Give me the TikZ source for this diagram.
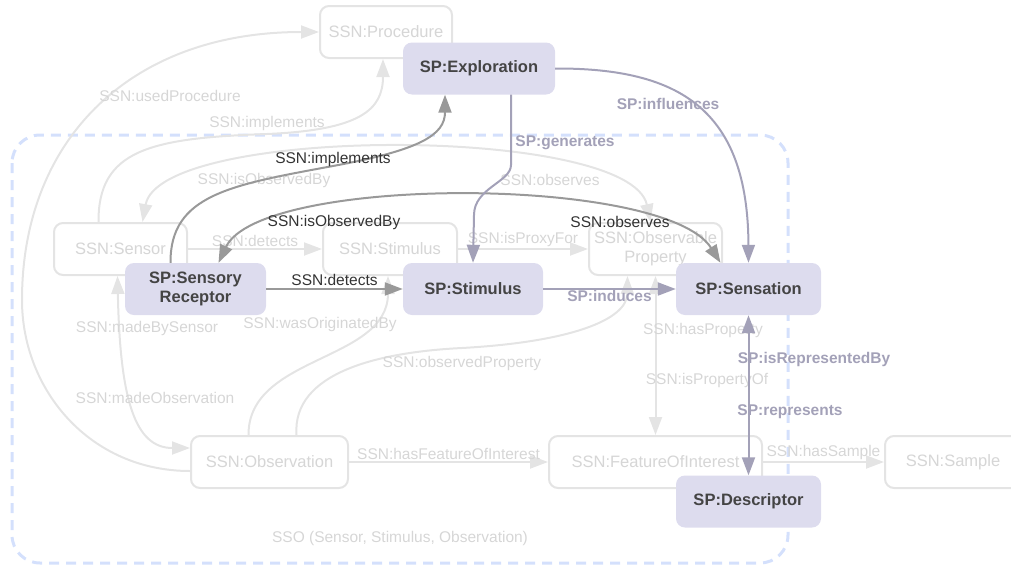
\documentclass[tikz,border=0pt]{standalone}
\usepackage{fontspec}
\setmainfont{Liberation Sans}
\usetikzlibrary{arrows.meta}
\definecolor{spfill}{RGB}{221,220,238}
\definecolor{sptext}{RGB}{68,68,68}
\definecolor{ssnline}{RGB}{228,228,228}
\definecolor{ssntext}{RGB}{214,214,214}
\definecolor{darkline}{RGB}{153,153,153}
\definecolor{darktext}{RGB}{51,51,51}
\definecolor{spline}{RGB}{163,161,184}
\definecolor{clusterline}{RGB}{212,224,252}
\begin{document}
\begin{tikzpicture}[x=1pt, y=-1pt, >={Triangle[length=18pt,width=13pt]},
  ssn/.style={draw=ssnline, line width=2pt, fill=white, rounded corners=9pt, minimum height=52pt, inner sep=0pt, align=center, text=ssntext, font=\fontsize{16.5}{19}\selectfont},
  sp/.style={fill=spfill, rounded corners=9pt, minimum height=52pt, inner sep=0pt, align=center, text=sptext, font=\bfseries\fontsize{16.5}{19}\selectfont},
  ssnedge/.style={draw=ssnline, line width=2pt},
  darkedge/.style={draw=darkline, line width=2pt},
  spedge/.style={draw=spline, line width=2pt},
  ssnlbl/.style={text=ssntext, font=\fontsize{15.5}{18}\selectfont},
  darklbl/.style={text=darktext, font=\fontsize{15.5}{18}\selectfont},
  splbl/.style={text=spline, font=\bfseries\fontsize{15.5}{18}\selectfont}]
  \useasboundingbox (0,0) rectangle (1011,565);
  \draw[draw=clusterline, line width=3pt, dash pattern=on 10pt off 7pt, rounded corners=28pt] (12,135) rectangle (788,563);
  \node[ssnlbl] (ssolabel) at (400,538) {SSO (Sensor, Stimulus, Observation)};

  \node[ssn, minimum width=132pt] (procedure) at (386,32) {SSN:Procedure};
  \node[ssn, minimum width=133pt] (sensor) at (120.5,249) {SSN:Sensor};
  \node[ssn, minimum width=134pt] (sstimulus) at (390,249) {SSN:Stimulus};
  \node[ssn, minimum width=133pt] (obsprop) at (655.5,249) {SSN:Observable\\Property};
  \node[ssn, minimum width=157pt] (observation) at (269.5,462) {SSN:Observation};
  \node[ssn, minimum width=213pt] (foi) at (655.5,462) {SSN:FeatureOfInterest};
  \node[ssn, minimum width=136pt] (sample) at (953,462) {SSN:Sample};

  \node[sp, minimum width=152pt] (exploration) at (479,68.5) {SP:Exploration};
  \node[sp, minimum width=141pt] (receptor) at (195.5,289) {SP:Sensory\\Receptor};
  \node[sp, minimum width=140pt] (stimulus) at (473,289) {SP:Stimulus};
  \node[sp, minimum width=145pt] (sensation) at (748.5,289) {SP:Sensation};
  \node[sp, minimum width=145pt] (descriptor) at (748.5,501.5) {SP:Descriptor};

  \draw[ssnedge, ->] ([yshift=-9pt]observation.west) .. controls (90,471) and (22,390) .. (22,300)
    .. controls (22,140) and (130,32) .. (procedure.west);
  \node[ssnlbl] (usedproc) at (170,96) {SSN:usedProcedure};
  \draw[ssnedge, ->] ([xshift=-22pt]sensor.north) .. controls (98,150) and (150,138) .. (267,134)
    .. controls (360,130) and (383,110) .. ([xshift=-3pt]procedure.south);
  \node[ssnlbl] (implssn) at (267,123) {SSN:implements};
  \draw[ssnedge, <->] ([xshift=-5pt]obsprop.north) .. controls (630,125) and (160,125) .. ([xshift=22pt]sensor.north);
  \node[ssnlbl] (isobsssn) at (264,180) {SSN:isObservedBy};
  \node[ssnlbl] (obsssn) at (550,180) {SSN:observes};
  \draw[ssnedge, ->] (sensor.east) -- (sstimulus.west) node[ssnlbl, midway, above=-2pt] (detssn) {SSN:detects};
  \draw[ssnedge, ->] (sstimulus.east) -- (obsprop.west) node[ssnlbl, midway, above=-2pt] (proxy) {SSN:isProxyFor};
  \draw[ssnedge, ->] (observation.east) -- (foi.west) node[ssnlbl, midway, above=-2pt] (hasfoi) {SSN:hasFeatureOfInterest};
  \draw[ssnedge, ->] (foi.east) -- (sample.west) node[ssnlbl, midway, above=-2pt] (hassample) {SSN:hasSample};
  \draw[ssnedge, <->] ([xshift=-3pt]sensor.south) .. controls (120,400) and (135,448) .. ([yshift=14pt]observation.west);
  \node[ssnlbl] (madeby) at (147,328) {SSN:madeBySensor};
  \node[ssnlbl] (madeobs) at (155,398) {SSN:madeObservation};
  \draw[ssnedge, ->] ([xshift=-21pt]observation.north) .. controls (248,355) and (388,362) .. ([xshift=-2pt]sstimulus.south);
  \node[ssnlbl] (origin) at (320,324) {SSN:wasOriginatedBy};
  \draw[ssnedge, ->] ([xshift=27pt]observation.north) .. controls (292,372) and (380,352) .. (462,348)
    .. controls (570,342) and (627,320) .. ([xshift=-28pt]obsprop.south);
  \node[ssnlbl] (obsproplbl) at (462,363) {SSN:observedProperty};
  \draw[ssnedge, <->] (obsprop.south) -- (foi.north);
  \node[ssnlbl] (hasprop) at (703,330) {SSN:hasProperty};
  \node[ssnlbl] (propof) at (707,380) {SSN:isPropertyOf};

  \draw[darkedge, ->] ([xshift=-25pt]receptor.north) .. controls (170,195) and (230,185) .. (333,166)
    .. controls (420,150) and (445,135) .. ([xshift=-34pt]exploration.south);
  \node[darklbl] (impl) at (333,159) {SSN:implements};
  \draw[darkedge, <->] ([xshift=23pt]receptor.north) .. controls (260,175) and (665,175) .. ([xshift=-28pt]sensation.north);
  \node[darklbl] (isobs) at (334,222) {SSN:isObservedBy};
  \node[darklbl] (obs) at (620,222) {SSN:observes};
  \draw[darkedge, ->] (receptor.east) -- (stimulus.west) node[darklbl, midway, above=-1pt] (det) {SSN:detects};

  \draw[spedge, ->] ([xshift=32pt]exploration.south) -- (511,165) .. controls (511,182) and (474,188) .. (474,215) -- (stimulus.north);
  \node[splbl] (gen) at (565,143) {SP:generates};
  \draw[spedge, ->] (exploration.east) .. controls (680,68) and (748,110) .. (sensation.north);
  \node[splbl] (infl) at (668,104) {SP:influences};
  \draw[spedge, ->] (stimulus.east) -- (sensation.west) node[splbl, midway, below=-3pt] (ind) {SP:induces};
  \draw[spedge, <->] (sensation.south) -- (descriptor.north);
  \node[splbl] (isrep) at (814,359) {SP:isRepresentedBy};
  \node[splbl] (rep) at (790,412) {SP:represents};
\end{tikzpicture}
\end{document}
